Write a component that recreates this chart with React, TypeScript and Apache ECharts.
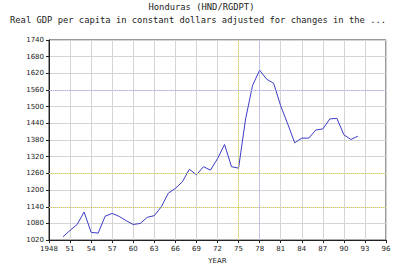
import React, { useEffect, useRef } from "react";
import * as echarts from "echarts";

const years = [1950,1951,1952,1953,1954,1955,1956,1957,1958,1959,1960,1961,1962,1963,1964,1965,1966,1967,1968,1969,1970,1971,1972,1973,1974,1975,1976,1977,1978,1979,1980,1981,1982,1983,1984,1985,1986,1987,1988,1989,1990,1991,1992];
const gdp = [1032,1055,1076,1121,1048,1045,1106,1116,1105,1090,1076,1080,1102,1108,1140,1189,1206,1230,1275,1255,1284,1272,1313,1364,1284,1279,1456,1577,1631,1599,1584,1503,1438,1370,1387,1387,1416,1420,1456,1458,1399,1382,1394];
const titleText = "Honduras (HND/RGDPT)";
const subtitleText = "Real GDP per capita in constant dollars adjusted for changes in the ...";
const xName = "YEAR";
const hDotted = [{ v: 1560, c: "#b0b0ff" }, { v: 1260, c: "#e0e060" }, { v: 1140, c: "#d8d850" }];
const vDotted = [{ v: 1975, c: "#e0e060" }, { v: 1978, c: "#b0b0ff" }];

export default function App() {
  const ref = useRef<HTMLDivElement>(null);
  useEffect(() => {
    const chart = echarts.init(ref.current!, undefined, { renderer: "svg" });
    const font = "DejaVu Sans Mono";
    chart.setOption({
      animation: false,
      backgroundColor: "#ffffff",
      title: [
        { text: titleText, left: "center", top: 2, padding: 0, textStyle: { fontFamily: font, fontSize: 8.8, fontWeight: "normal", color: "#222" } },
        { text: subtitleText, left: 10, top: 15, padding: 0, textStyle: { fontFamily: font, fontSize: 8.8, fontWeight: "normal", color: "#222" } },
      ],
      grid: { left: 49, right: 17, top: 40, bottom: 27, show: true, borderColor: "#333", borderWidth: 1 },
      xAxis: {
        type: "value", min: 1948, max: 1996, interval: 3,
        name: xName, nameLocation: "middle", nameGap: 16,
        nameTextStyle: { fontFamily: "DejaVu Sans", fontSize: 7, color: "#222" },
        axisLine: { lineStyle: { color: "#222" } },
        axisTick: { show: true, length: 3, lineStyle: { color: "#222" } },
        axisLabel: { fontFamily: "DejaVu Sans", fontSize: 7, color: "#222", margin: 5,
          formatter: (v: number) => (v === 1948 ? "1948" : String(v % 100).padStart(2, "0")) },
        splitLine: { show: true, lineStyle: { color: "#d4d4d4", width: 1 } },
      },
      yAxis: {
        type: "value", min: 1020, max: 1740, interval: 60,
        axisLine: { show: true, lineStyle: { color: "#222" } },
        axisTick: { show: true, length: 3, lineStyle: { color: "#222" } },
        axisLabel: { fontFamily: "DejaVu Sans", fontSize: 7, color: "#222", margin: 5, formatter: (v: number) => String(v) },
        splitLine: { show: true, lineStyle: { color: "#d4d4d4", width: 1 } },
      },
      series: [
        {
          type: "line",
          data: years.map((y, i) => [y, gdp[i]]),
          symbol: "none",
          lineStyle: { color: "#3c3cc8", width: 1 },
          markLine: {
            silent: true, symbol: "none", label: { show: false },
            data: [
              ...hDotted.map((d) => ({ yAxis: d.v, lineStyle: { color: d.c, type: "dotted", width: 1 } })),
              ...vDotted.map((d) => ({ xAxis: d.v, lineStyle: { color: d.c, type: "dotted", width: 1 } })),
            ],
          },
        },
      ],
    });
    return () => chart.dispose();
  }, []);
  return <div ref={ref} style={{ position: "fixed", left: 0, top: 0, width: 403, height: 269 }} />;
}
